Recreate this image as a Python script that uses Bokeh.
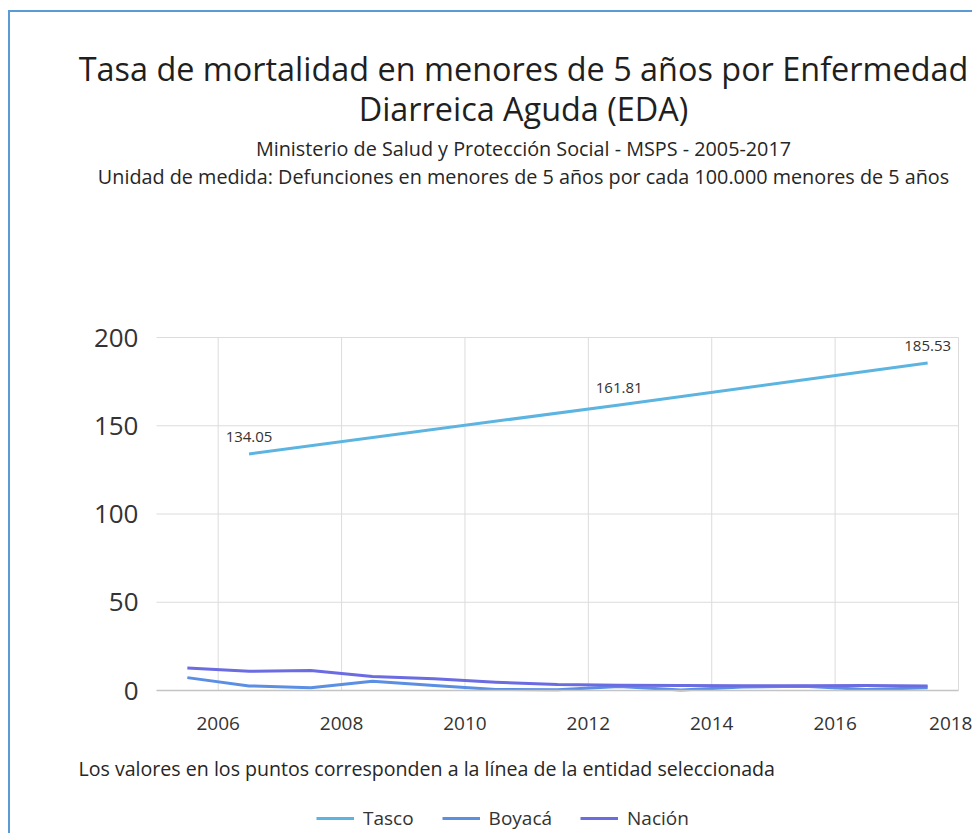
from bokeh.plotting import figure
from bokeh.models import (Range1d, Label, LabelSet, ColumnDataSource, Legend, LegendItem,
                          FixedTicker)
from bokeh.core.properties import value
from bokeh.embed import file_html
from bokeh.resources import INLINE

# ---------------- data ----------------
years = [2005, 2006, 2007, 2008, 2009, 2010, 2011, 2012, 2013, 2014, 2015, 2016, 2017]
boyaca = [7.3, 2.6, 1.6, 5.3, 2.8, 0.6, 0.4, 2.3, 0.3, 2.0, 2.4, 0.5, 1.5]
nacion = [12.8, 10.9, 11.3, 7.9, 6.6, 4.7, 3.4, 3.0, 2.8, 2.7, 2.7, 2.8, 2.5]
tasco_years = [2006, 2012, 2017]
tasco = [134.05, 161.81, 185.53]
tasco_labels = ["134.05", "161.81", "185.53"]
x_ticks = [2006, 2008, 2010, 2012, 2014, 2016, 2018]
y_ticks = [0, 50, 100, 150, 200]
x_domain = (2005, 2018)
y_domain = (0, 200)

title_1 = "Tasa de mortalidad en menores de 5 años por Enfermedad"
title_2 = "Diarreica Aguda (EDA)"
subtitle_1 = "Ministerio de Salud y Protección Social - MSPS - 2005-2017"
subtitle_2 = "Unidad de medida: Defunciones en menores de 5 años por cada 100.000 menores de 5 años"
note = "Los valores en los puntos corresponden a la línea de la entidad seleccionada"

FONT = "Open Sans"
C_TASCO = "#5cb4e0"
C_BOY = "#5b8fe3"
C_NAC = "#6b6be2"
GRID = "#dcdcdc"

# ---------------- layout (canvas pixels, origin top-left) ----------------
W, H = 964, 823
PX_L, PX_R = 146, 948      # x_domain ends
PY_T, PY_B = 325, 678      # y_domain ends (top, bottom)

xs_per_px = (x_domain[1] - x_domain[0]) / (PX_R - PX_L)
ys_per_px = (y_domain[1] - y_domain[0]) / (PY_B - PY_T)
x_range = Range1d(x_domain[0] - PX_L * xs_per_px, x_domain[1] + (W - PX_R) * xs_per_px)
y_range = Range1d(y_domain[0] - (H - PY_B) * ys_per_px, y_domain[1] + PY_T * ys_per_px)

p = figure(width=W, height=H, output_backend="svg", toolbar_location=None,
           x_range=x_range, y_range=y_range,
           min_border=0, min_border_left=0, min_border_right=0,
           min_border_top=0, min_border_bottom=0,
           styles={"margin-left": "8px", "margin-top": "10px",
                   "border-left": "2px solid #5b9bd5", "border-top": "2px solid #5b9bd5"})
p.outline_line_color = None
p.grid.visible = False

# axes placed at the data origin
p.xaxis.fixed_location = y_domain[0]
p.yaxis.fixed_location = x_domain[0]
p.xaxis.bounds = x_domain
p.yaxis.bounds = y_domain
p.xaxis.ticker = FixedTicker(ticks=x_ticks)
p.yaxis.ticker = FixedTicker(ticks=y_ticks)
p.xaxis.axis_line_color = "#c4c4c4"
p.xaxis.axis_line_width = 1.5
p.yaxis.axis_line_color = None
for ax in (p.xaxis[0], p.yaxis[0]):
    ax.major_tick_line_color = None
    ax.minor_tick_line_color = None
    ax.major_label_text_font = FONT
    ax.major_label_text_color = "#333333"
p.xaxis.major_label_text_font_size = "19px"
p.xaxis.major_label_standoff = 20
p.yaxis.major_label_text_font_size = "26px"
p.yaxis.major_label_standoff = 12

# grid lines
p.segment(x0=x_ticks, y0=[y_domain[0]] * len(x_ticks), x1=x_ticks, y1=[y_domain[1]] * len(x_ticks),
          line_color=GRID, line_width=1, level="underlay")
gy = [t for t in y_ticks if t != y_domain[0]]
p.segment(x0=[x_domain[0]] * len(gy), y0=gy, x1=[x_domain[1]] * len(gy), y1=gy,
          line_color=GRID, line_width=1, level="underlay")

# series (points plotted at mid-year)
xs_all = [y + 0.5 for y in years]
xs_tasco = [y + 0.5 for y in tasco_years]
r_boy = p.line(xs_all, boyaca, line_color=C_BOY, line_width=3, line_join="round")
r_nac = p.line(xs_all, nacion, line_color=C_NAC, line_width=3, line_join="round")
r_tas = p.line(xs_tasco, tasco, line_color=C_TASCO, line_width=3, line_join="round")

src = ColumnDataSource(dict(x=xs_tasco, y=tasco, t=tasco_labels))
p.add_layout(LabelSet(x="x", y="y", text="t", source=src, y_offset=17,
                      text_align="center", text_baseline="middle",
                      text_font=value(FONT), text_font_size="15px", text_color="#333333"))

# ---- titles and note (screen px; y measured up from the bottom) ----
CX = 513
def lab(text, x, y_down, size, color="#1f1f1f", align="center"):
    p.add_layout(Label(x=x, y=H - y_down, x_units="screen", y_units="screen", text=text,
                       text_align=align, text_baseline="middle", text_font=FONT,
                       text_font_size=size, text_color=color))

lab(title_1, CX, 55, "32.4px")
lab(title_2, CX, 95, "32.4px")
lab(subtitle_1, CX, 136, "19.8px", "#262626")
lab(subtitle_2, CX, 164, "19.8px", "#262626")
lab(note, 68, 756, "19.6px", "#262626", align="left")

legend = Legend(items=[LegendItem(label="Tasco", renderers=[r_tas]),
                       LegendItem(label="Boyacá", renderers=[r_boy]),
                       LegendItem(label="Nación", renderers=[r_nac])],
                orientation="horizontal", location=(306, 4),
                glyph_width=38, glyph_height=20, label_height=20, label_standoff=9, spacing=28,
                padding=0, margin=0, border_line_color=None, background_fill_alpha=0,
                label_text_font=FONT, label_text_font_size="19px", label_text_color="#333333")
p.add_layout(legend, "center")

open("out.html", "w").write(file_html(p, INLINE))
